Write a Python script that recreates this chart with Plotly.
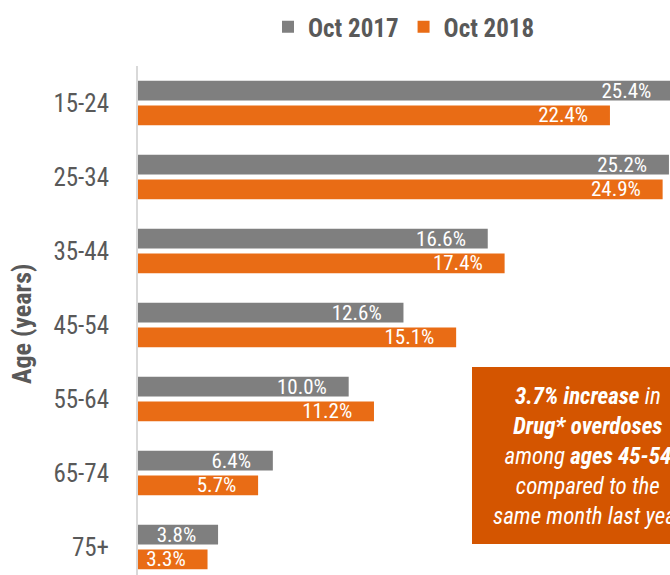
import plotly.graph_objects as go

ages = ["15-24", "25-34", "35-44", "45-54", "55-64", "65-74", "75+"]
oct_2017 = [25.4, 25.2, 16.6, 12.6, 10.0, 6.4, 3.8]
oct_2018 = [22.4, 24.9, 17.4, 15.1, 11.2, 5.7, 3.3]
series_names = ["Oct 2017", "Oct 2018"]

GRAY = "#7f7f7f"
ORANGE = "#E96C15"
BOX = "#D45500"
TXT = "#595959"
NARROW = "Liberation Sans Narrow, Arial Narrow, Roboto Condensed, DejaVu Sans Condensed, sans-serif"
PAD = "\u2002\u2002"

W, H = 670, 575
L, T = 138, 66
PW, PH = W - L, H - T
PX_PER_CAT = 74.0
y_bottom = -0.5 + PH / PX_PER_CAT

fig = go.Figure()
for name, vals, col, off in [(series_names[0], oct_2017, GRAY, -0.3),
                             (series_names[1], oct_2018, ORANGE, 0.035)]:
    fig.add_trace(go.Bar(
        y=ages, x=vals, name=name, orientation="h",
        marker=dict(color=col, line=dict(width=0)),
        width=0.265, offset=off,
        text=[f"{v:.1f}%{PAD}" for v in vals],
        textposition="inside", insidetextanchor="end",
        constraintext="none", cliponaxis=True,
        textfont=dict(color="white", size=21, family=NARROW),
    ))

fig.update_layout(
    width=W, height=H,
    margin=dict(l=L, r=0, t=T, b=0, autoexpand=False),
    paper_bgcolor="white", plot_bgcolor="white",
    barmode="overlay",
    showlegend=True,
    legend=dict(orientation="h", x=0.5, xanchor="center", y=1 + 39 / PH, yanchor="middle",
                font=dict(size=25, color=TXT, family=NARROW, weight="bold"),
                itemwidth=30, tracegroupgap=0, traceorder="normal"),
    xaxis=dict(range=[0, 25.25], visible=False, showgrid=False, zeroline=False,
               automargin=False),
    yaxis=dict(type="category", categoryorder="array", categoryarray=ages,
               range=[y_bottom, -0.5], showgrid=False, zeroline=False,
               showline=True, linecolor="#d9d9d9", linewidth=2,
               ticks="", ticklabelstandoff=22, automargin=False,
               tickfont=dict(size=25, color=TXT, family=NARROW)),
)

def py(page_y):
    return 1 - (page_y - T) / PH

def px(page_x):
    return (page_x - L) / PW

fig.add_annotation(text="<b>Age (years)</b>", textangle=-90, xref="paper", yref="paper",
                   x=px(22), y=py(324), xanchor="center", yanchor="middle",
                   showarrow=False, font=dict(size=26, color=TXT, family=NARROW))

fig.add_shape(type="rect", xref="paper", yref="paper",
              x0=px(472), x1=px(705), y0=py(544), y1=py(367),
              fillcolor=BOX, line=dict(width=0), layer="above")

box_text = ("<b><i>3.7% increase</i></b><i> in</i><br>"
            "<b><i>Drug* overdoses</i></b><br>"
            "<i>among </i><b><i>ages 45-54</i></b><br>"
            "<i>compared to the</i><br>"
            "<i>same month last year</i>")
fig.add_annotation(text=box_text, xref="paper", yref="paper",
                   x=px(588), y=py(456),
                   xanchor="center", yanchor="middle", align="center", showarrow=False,
                   font=dict(size=23, color="white", family=NARROW))

fig.write_html(
    "out.html",
    config={"displayModeBar": False},
    post_script=("document.body.style.margin='0';"
                 "document.body.style.overflow='hidden';"
                 "document.documentElement.style.overflow='hidden';"),
)
